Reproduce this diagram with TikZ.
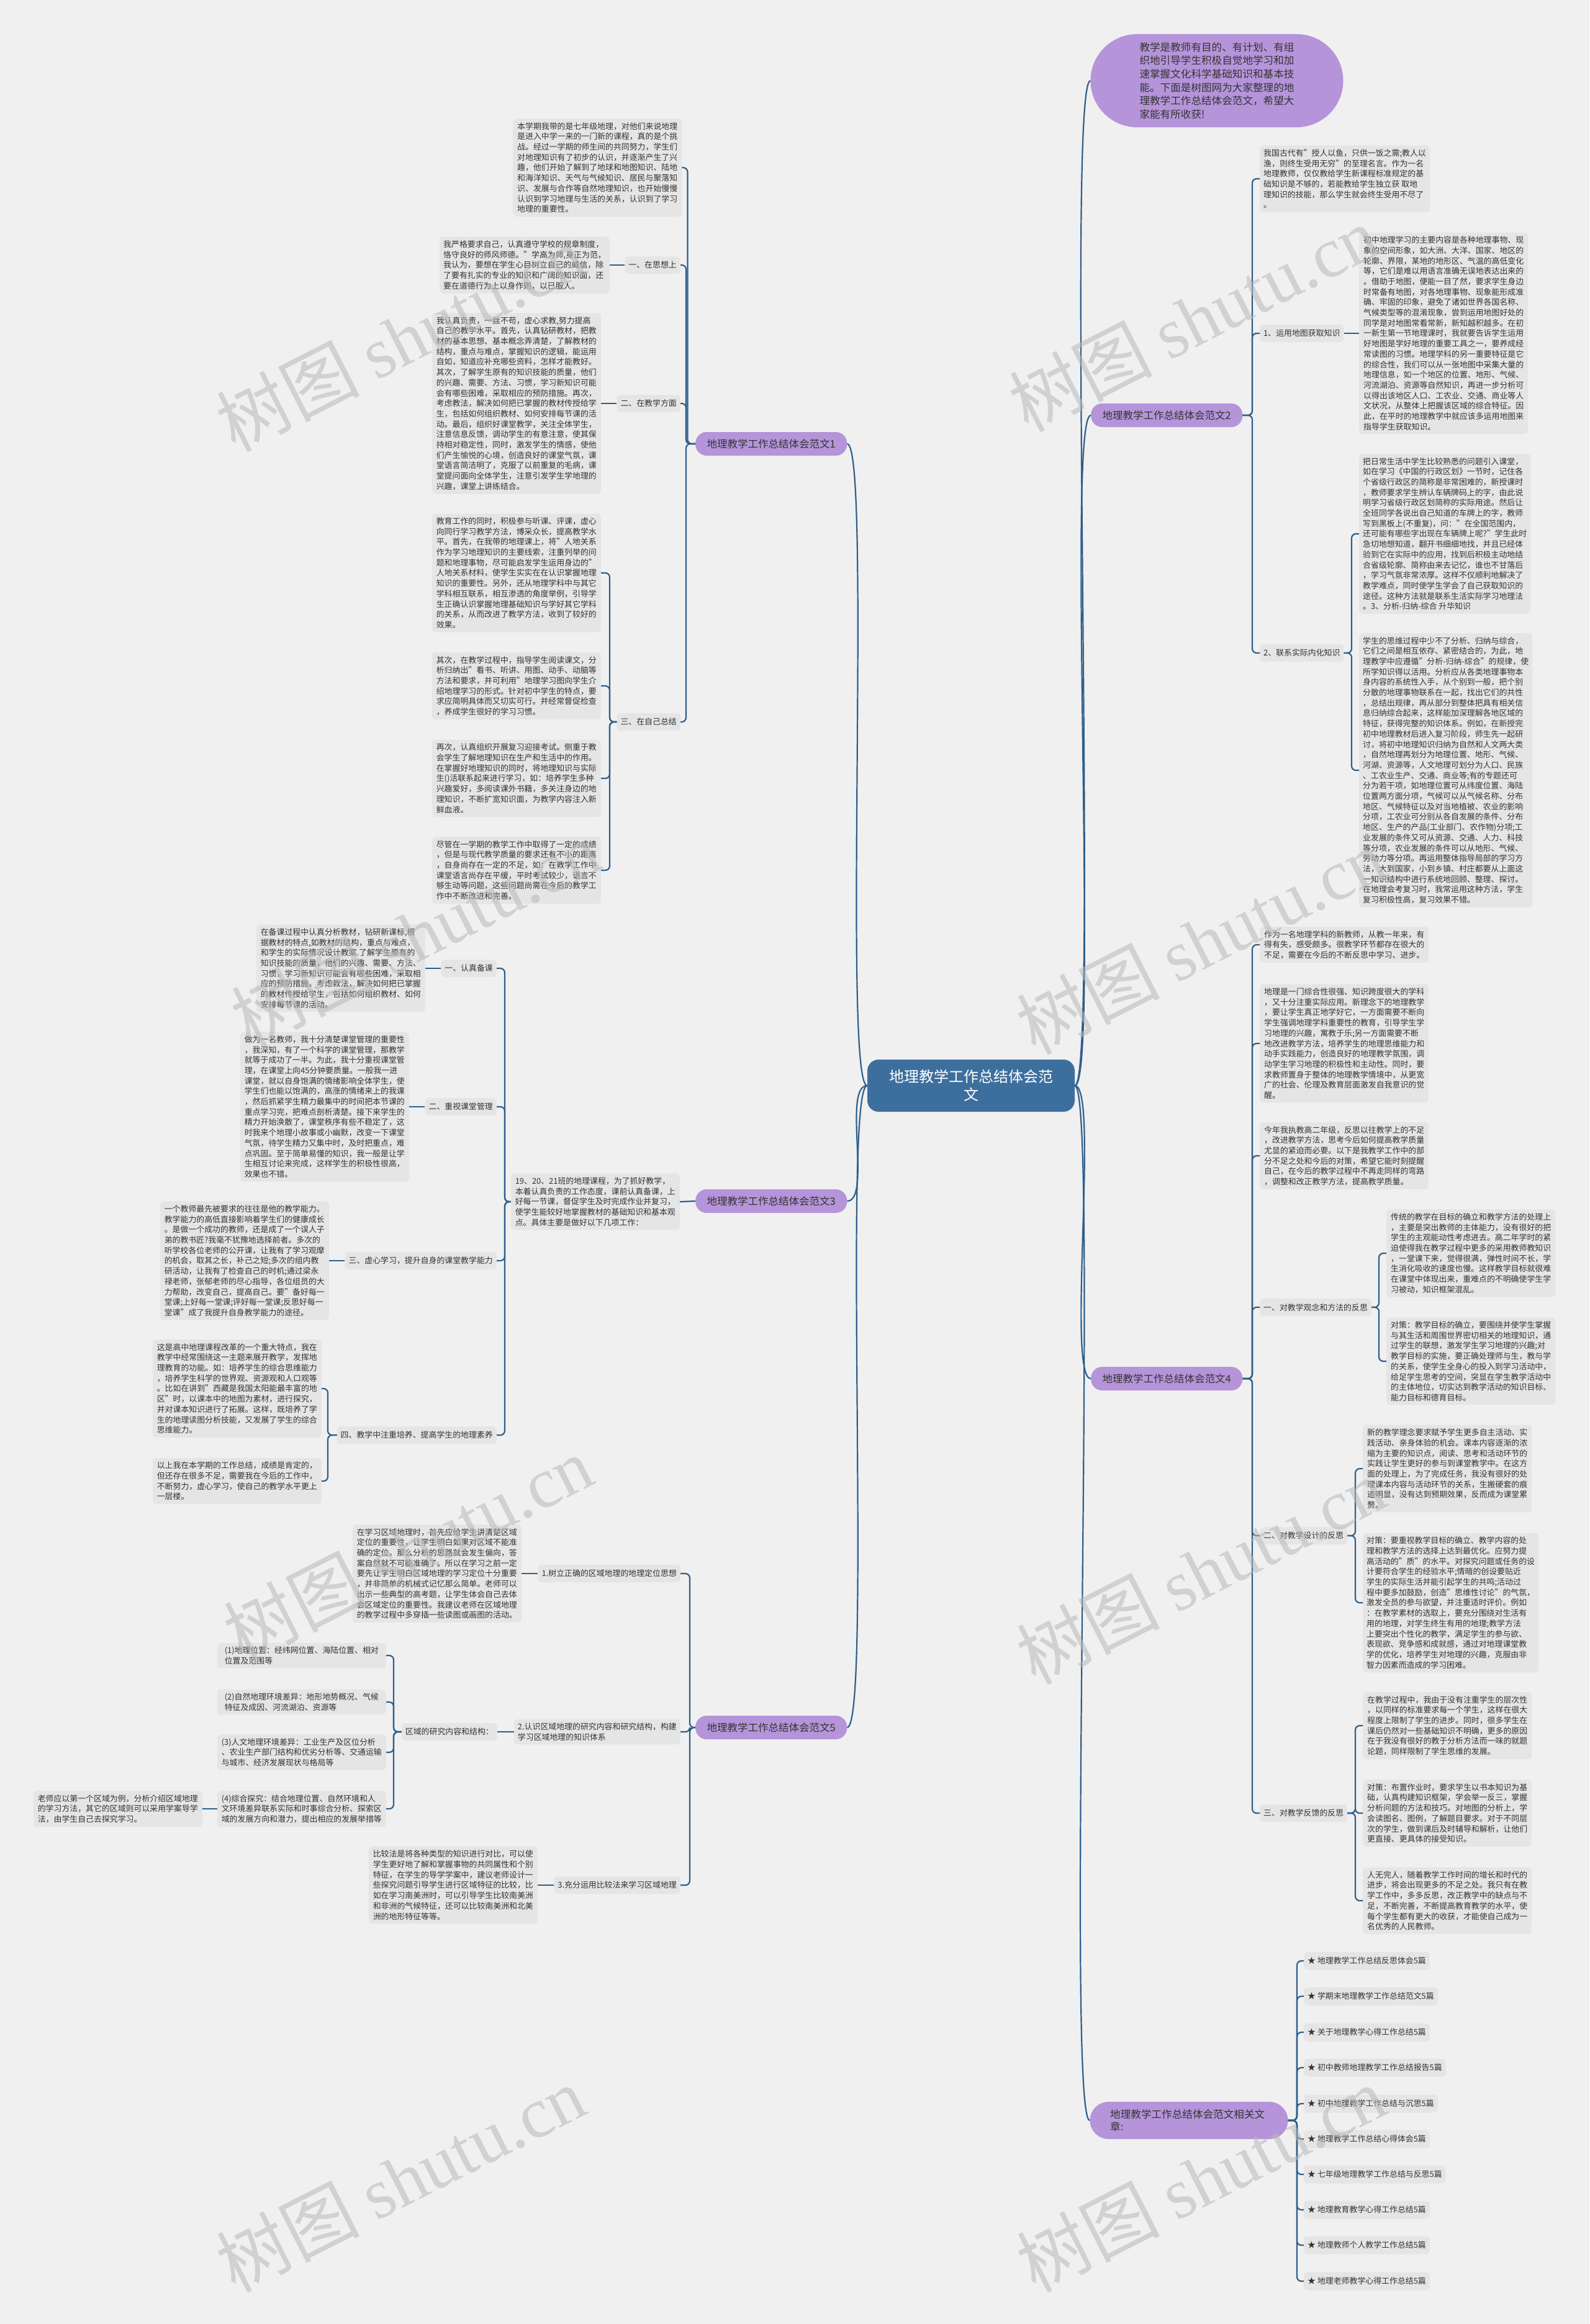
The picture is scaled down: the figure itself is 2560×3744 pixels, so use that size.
\documentclass[tikz,border=0pt]{standalone}
\usepackage{fontspec}
\setmainfont{Noto Sans CJK SC}
\newfontfamily\wmserif{Liberation Serif}
\usetikzlibrary{calc}
\definecolor{bgc}{HTML}{F0F0F0}
\definecolor{boxc}{HTML}{E5E5E5}
\definecolor{linec}{HTML}{2F5F8A}
\definecolor{txtc}{HTML}{333333}
\definecolor{ctrc}{HTML}{3D6F9E}
\definecolor{purp}{HTML}{B594DA}
\definecolor{wmc}{HTML}{B8B8B8}
\tikzset{
 tb/.style={fill=boxc, rounded corners=6pt, inner xsep=6pt, inner ysep=6pt, text=txtc, font=\fontsize{12.9}{16.7}\selectfont, align=left, minimum width=272pt},
 lb/.style={fill=boxc, rounded corners=6pt, inner xsep=6pt, inner ysep=3pt, minimum height=28pt, text=txtc, font=\fontsize{12.9}{16.7}\selectfont, align=left},
 lone/.style={fill=purp, rounded corners=18pt, inner xsep=14pt, minimum height=38pt, minimum width=244pt, text=txtc, font=\fontsize{16.5}{20}\selectfont},
 ctr/.style={fill=ctrc, rounded corners=18pt, minimum width=334pt, minimum height=84pt, text=white, align=center, font=\fontsize{24}{29}\selectfont},
 bub/.style={fill=purp, text=txtc, align=left, font=\fontsize{16.6}{21.7}\selectfont},
 it/.style={fill=boxc, rounded corners=6pt, inner xsep=6pt, minimum height=29pt, text=txtc, font=\fontsize{12.9}{16}\selectfont},
 conn/.style={draw=linec, line width=2.2pt, rounded corners=7pt},
 wm/.style={text=wmc, opacity=0.55, font=\fontsize{115}{115}\selectfont, rotate=27}
}
\begin{document}
\begin{tikzpicture}[x=1pt,y=-1pt]
\fill[bgc] (0,0) rectangle (2560,3744);
\useasboundingbox (0,0) rectangle (2560,3744);

% ---------- center and level 1 ----------
\node[ctr] (C) at (1564,1749) {地理教学工作总结体会范\\文};
\node[bub, rounded corners=75pt, minimum width=407pt, minimum height=150pt] (I) at (1960,130) {教学是教师有目的、有计划、有组\\织地引导学生积极自觉地学习和加\\速掌握文化科学基础知识和基本技\\能。下面是树图网为大家整理的地\\理教学工作总结体会范文，希望大\\家能有所收获!};
\node[lone, anchor=west] (B1) at (1120,715) {地理教学工作总结体会范文1};
\node[lone, anchor=west] (B2) at (1757,669) {地理教学工作总结体会范文2};
\node[lone, anchor=west] (B3) at (1120,1935) {地理教学工作总结体会范文3};
\node[lone, anchor=west] (B4) at (1757,2221) {地理教学工作总结体会范文4};
\node[lone, anchor=west] (B5) at (1120,2783) {地理教学工作总结体会范文5};
\node[bub, rounded corners=30pt, minimum width=319pt, minimum height=60pt, font=\fontsize{16.6}{20}\selectfont] (B6) at (1915,3416) {地理教学工作总结体会范文相关文\\章:\hphantom{理教学工作总结体会范文相关文}};

\draw[conn] (C.west) .. controls +(-40,0) and +(40,0) .. (B1.east);
\draw[conn] (C.west) .. controls +(-40,0) and +(40,0) .. (B3.east);
\draw[conn] (C.west) .. controls +(-40,0) and +(40,0) .. (B5.east);
\draw[conn] (C.east) .. controls +(40,0) and +(-40,0) .. (I.west);
\draw[conn] (C.east) .. controls +(40,0) and +(-40,0) .. (B2.west);
\draw[conn] (C.east) .. controls +(40,0) and +(-40,0) .. (B4.west);
\draw[conn] (C.east) .. controls +(40,0) and +(-40,0) .. (B6.west);

% ---------- branch 1 ----------
\node[tb, anchor=west] (t1a) at (826,270) {本学期我带的是七年级地理，对他们来说地理\\是进入中学一来的一门新的课程，真的是个挑\\战。经过一学期的师生间的共同努力，学生们\\对地理知识有了初步的认识，并逐渐产生了兴\\趣，他们开始了解到了地球和地图知识、陆地\\和海洋知识、天气与气候知识、居民与聚落知\\识、发展与合作等自然地理知识，也开始慢慢\\认识到学习地理与生活的关系，认识到了学习\\地理的重要性。};
\node[lb, anchor=east] (l1a) at (1096,427) {一、在思想上};
\node[tb, anchor=east] (t1a1) at (982,427) {我严格要求自己，认真遵守学校的规章制度，\\恪守良好的师风师德。"学高为师,身正为范，\\我认为，要想在学生心目树立自己的威信，除\\了要有扎实的专业的知识和广阔的知识面，还\\要在道德行为上以身作则，以已服人。};
\node[lb, anchor=east] (l1b) at (1096,650) {二、在教学方面};
\node[tb, anchor=east] (t1b1) at (968,650) {我认真负责，一丝不苟，虚心求教,努力提高\\自己的教学水平。首先，认真钻研教材，把教\\材的基本思想、基本概念弄清楚，了解教材的\\结构，重点与难点，掌握知识的逻辑，能运用\\自如，知道应补充哪些资料，怎样才能教好。\\其次，了解学生原有的知识技能的质量，他们\\的兴趣、需要、方法、习惯，学习新知识可能\\会有哪些困难，采取相应的预防措施。再次，\\考虑教法，解决如何把已掌握的教材传授给学\\生，包括如何组织教材、如何安排每节课的活\\动。最后，组织好课堂教学，关注全体学生，\\注意信息反馈，调动学生的有意注意，使其保\\持相对稳定性，同时，激发学生的情感，使他\\们产生愉悦的心境，创造良好的课堂气氛，课\\堂语言简洁明了，克服了以前重复的毛病，课\\堂提问面向全体学生，注意引发学生学地理的\\兴趣，课堂上讲练结合。};
\node[lb, anchor=east] (l1c) at (1096,1163) {三、在自己总结};
\node[tb, anchor=east] (t1cA) at (968,923) {教育工作的同时，积极参与听课、评课，虚心\\向同行学习教学方法，博采众长，提高教学水\\平。首先，在我带的地理课上，将"人地关系\\作为学习地理知识的主要线索，注重列举的问\\题和地理事物，尽可能启发学生运用身边的"\\人地关系材料，使学生实实在在认识掌握地理\\知识的重要性。另外，还从地理学科中与其它\\学科相互联系，相互渗透的角度举例，引导学\\生正确认识掌握地理基础知识与学好其它学科\\的关系，从而改进了教学方法，收到了较好的\\效果。};
\node[tb, anchor=east] (t1cB) at (968,1105) {其次，在教学过程中，指导学生阅读课文，分\\析归纳出"看书、听讲、用图、动手、动脑等\\方法和要求，并可利用"地理学习图向学生介\\绍地理学习的形式。针对初中学生的特点，要\\求应简明具体而又切实可行。并经常督促检查\\，养成学生很好的学习习惯。};
\node[tb, anchor=east] (t1cC) at (968,1254) {再次，认真组织开展复习迎接考试。侧重于教\\会学生了解地理知识在生产和生活中的作用。\\在掌握好地理知识的同时，将地理知识与实际\\生()活联系起来进行学习，如：培养学生多种\\兴趣爱好，多阅读课外书籍，多关注身边的地\\理知识，不断扩宽知识面，为教学内容注入新\\鲜血液。};
\node[tb, anchor=east] (t1cD) at (968,1402) {尽管在一学期的教学工作中取得了一定的成绩\\，但是与现代教学质量的要求还有不小的距离\\，自身尚存在一定的不足，如：在教学工作中\\课堂语言尚存在平缓，平时考试较少，语言不\\够生动等问题，这些问题尚需在今后的教学工\\作中不断改进和完善。};

\foreach \n in {t1a,l1a,l1b,l1c} \draw[conn] (B1.west) -| ([xshift=9pt]\n.east) -- (\n.east);
\draw[conn] (l1a.west) -- (t1a1.east);
\draw[conn] (l1b.west) -- (t1b1.east);
\foreach \n in {t1cA,t1cB,t1cC,t1cD} \draw[conn] (l1c.west) -| ([xshift=14pt]\n.east) -- (\n.east);

% ---------- branch 2 ----------
\node[tb, anchor=west] (t2a) at (2029,288) {我国古代有"授人以鱼，只供一饭之需;教人以\\渔，则终生受用无穷"的至理名言。作为一名\\地理教师，仅仅教给学生新课程标准规定的基\\础知识是不够的，若能教给学生独立获 取地\\理知识的技能，那么学生就会终生受用不尽了\\。};
\node[lb, anchor=west] (l2a) at (2029,537) {1、运用地图获取知识};
\node[tb, anchor=west] (t2a1) at (2189,537) {初中地理学习的主要内容是各种地理事物、现\\象的空间形象，如大洲、大洋、国家、地区的\\轮廓、界限，某地的地形区、气温的高低变化\\等，它们是难以用语言准确无误地表达出来的\\。借助于地图，便能一目了然，要求学生身边\\时常备有地图，对各地理事物、现象能形成准\\确、牢固的印象，避免了诸如世界各国名称、\\气候类型等的混淆现象，尝到运用地图好处的\\同学是对地图常看常新，新知越积越多。在初\\一新生第一节地理课时，我就要告诉学生运用\\好地图是学好地理的重要工具之一，要养成经\\常读图的习惯。地理学科的另一重要特征是它\\的综合性，我们可以从一张地图中采集大量的\\地理信息，如一个地区的位置、地形、气候、\\河流湖泊、资源等自然知识，再进一步分析可\\以得出该地区人口、工农业、交通、商业等人\\文状况，从整体上把握该区域的综合特征。因\\此，在平时的地理教学中就应该多运用地图来\\指导学生获取知识。};
\node[lb, anchor=west] (l2b) at (2029,1052) {2、联系实际内化知识};
\node[tb, anchor=west] (t2bX) at (2189,860) {把日常生活中学生比较熟悉的问题引入课堂，\\如在学习《中国的行政区划》一节时，记住各\\个省级行政区的简称是非常困难的，新授课时\\，教师要求学生辨认车辆牌码上的字，由此说\\明学习省级行政区划简称的实际用途。然后让\\全班同学各说出自己知道的车牌上的字，教师\\写到黑板上(不重复)，问："在全国范围内，\\还可能有哪些字出现在车辆牌上呢?"学生此时\\急切地想知道，翻开书细细地找，并且已经体\\验到它在实际中的应用，找到后积极主动地结\\合省级轮廓、简称由来去记忆，谁也不甘落后\\，学习气氛非常浓厚。这样不仅顺利地解决了\\教学难点，同时使学生学会了自己获取知识的\\途径。这种方法就是联系生活实际学习地理法\\。3、分析-归纳-综合 升华知识};
\node[tb, anchor=west] (t2bY) at (2189,1241) {学生的思维过程中少不了分析、归纳与综合，\\它们之间是相互依存、紧密结合的，为此，地\\理教学中应遵循"分析-归纳-综合"的规律，使\\所学知识得以活用。分析应从各类地理事物本\\身内容的系统性入手，从个别到一般，把个别\\分散的地理事物联系在一起，找出它们的共性\\，总结出规律，再从部分到整体把具有相关信\\息归纳综合起来，这样能加深理解各地区域的\\特征，获得完整的知识体系。例如，在新授完\\初中地理教材后进入复习阶段，师生先一起研\\讨，将初中地理知识归纳为自然和人文两大类\\，自然地理再划分为地理位置、地形、气候、\\河湖、资源等，人文地理可划分为人口、民族\\、工农业生产、交通、商业等;有的专题还可\\分为若干项，如地理位置可从纬度位置、海陆\\位置两方面分项，气候可以从气候名称、分布\\地区、气候特征以及对当地植被、农业的影响\\分项，工农业可分别从各自发展的条件、分布\\地区、生产的产品(工业部门、农作物)分项;工\\业发展的条件又可从资源、交通、人力、科技\\等分项，农业发展的条件可以从地形、气候、\\劳动力等分项。再运用整体指导局部的学习方\\法，大到国家，小到乡镇、村庄都要从上面这\\一知识结构中进行系统地回顾、整理、探讨。\\在地理会考复习时，我常运用这种方法，学生\\复习积极性高，复习效果不错。};

\foreach \n in {t2a,l2a,l2b} \draw[conn] (B2.east) -| ([xshift=-12pt]\n.west) -- (\n.west);
\draw[conn] (l2a.east) -- (t2a1.west);
\foreach \n in {t2bX,t2bY} \draw[conn] (l2b.east) -| ([xshift=-12pt]\n.west) -- (\n.west);

% ---------- branch 3 ----------
\node[tb, anchor=east] (t3) at (1095,1936) {19、20、21班的地理课程，为了抓好教学，\\本着认真负责的工作态度，课前认真备课，上\\好每一节课，督促学生及时完成作业并复习，\\使学生能较好地掌握教材的基础知识和基本观\\点。具体主要是做好以下几项工作：};
\node[lb, anchor=east] (l3a) at (800,1560) {一、认真备课};
\node[tb, anchor=east] (t3a) at (685,1560) {在备课过程中认真分析教材，钻研新课标,根\\据教材的特点,如教材的结构，重点与难点，\\和学生的实际情况设计教案.了解学生原有的\\知识技能的质量，他们的兴趣、需要、方法、\\习惯，学习新知识可能会有哪些困难，采取相\\应的预防措施。考虑教法，解决如何把已掌握\\的教材传授给学生，包括如何组织教材、如何\\安排每节课的活动。};
\node[lb, anchor=east] (l3b) at (800,1783) {二、重视课堂管理};
\node[tb, anchor=east] (t3b) at (659,1783) {做为一名教师，我十分清楚课堂管理的重要性\\，我深知，有了一个科学的课堂管理，那教学\\就等于成功了一半。为此，我十分重视课堂管\\理，在课堂上向45分钟要质量。一般我一进\\课堂，就以自身饱满的情绪影响全体学生，使\\学生们也能以饱满的，高涨的情绪来上的我课\\，然后抓紧学生精力最集中的时间把本节课的\\重点学习完，把难点剖析清楚。接下来学生的\\精力开始涣散了，课堂秩序有些不稳定了，这\\时我来个地理小故事或小幽默，改变一下课堂\\气氛，待学生精力又集中时，及时把重点，难\\点巩固。至于简单易懂的知识，我一般是让学\\生相互讨论来完成，这样学生的积极性很高，\\效果也不错。};
\node[lb, anchor=east] (l3c) at (800,2031) {三、虚心学习，提升自身的课堂教学能力};
\node[tb, anchor=east] (t3c) at (530,2031) {一个教师最先被要求的往往是他的教学能力。\\教学能力的高低直接影响着学生们的健康成长\\。是做一个成功的教师，还是成了一个误人子\\弟的教书匠?我毫不犹豫地选择前者。多次的\\听学校各位老师的公开课，让我有了学习观摩\\的机会，取其之长，补己之短;多次的组内教\\研活动，让我有了检查自己的时机;通过梁永\\禄老师，张郁老师的尽心指导，各位组员的大\\力帮助，改变自己，提高自己。要"备好每一\\堂课;上好每一堂课;评好每一堂课;反思好每一\\堂课"成了我提升自身教学能力的途径。};
\node[lb, anchor=east] (l3d) at (800,2312) {四、教学中注重培养、提高学生的地理素养};
\node[tb, anchor=east] (t3dA) at (518,2237) {这是高中地理课程改革的一个重大特点，我在\\教学中经常围绕这一主题来展开教学，发挥地\\理教育的功能。如：培养学生的综合思维能力\\，培养学生科学的世界观、资源观和人口观等\\。比如在讲到"西藏是我国太阳能最丰富的地\\区"时，以课本中的地图为素材，进行探究，\\并对课本知识进行了拓展。这样，既培养了学\\生的地理读图分析技能，又发展了学生的综合\\思维能力。};
\node[tb, anchor=east] (t3dB) at (518,2386) {以上我在本学期的工作总结，成绩是肯定的，\\但还存在很多不足，需要我在今后的工作中，\\不断努力，虚心学习，使自己的教学水平更上\\一层楼。};

\draw[conn] (B3.west) -- (t3.east);
\foreach \n in {l3a,l3b,l3c,l3d} \draw[conn] (t3.west) -| ([xshift=13pt]\n.east) -- (\n.east);
\draw[conn] (l3a.west) -- (t3a.east);
\draw[conn] (l3b.west) -- (t3b.east);
\draw[conn] (l3c.west) -- (t3c.east);
\foreach \n in {t3dA,t3dB} \draw[conn] (l3d.west) -| ([xshift=10pt]\n.east) -- (\n.east);

% ---------- branch 4 ----------
\node[tb, anchor=west] (t4a) at (2029,1522) {作为一名地理学科的新教师，从教一年来，有\\得有失，感受颇多。很教学环节都存在很大的\\不足，需要在今后的不断反思中学习、进步。};
\node[tb, anchor=west] (t4b) at (2029,1681) {地理是一门综合性很强、知识跨度很大的学科\\，又十分注重实际应用。新理念下的地理教学\\，要让学生真正地学好它，一方面需要不断向\\学生强调地理学科重要性的教育，引导学生学\\习地理的兴趣，寓教于乐;另一方面需要不断\\地改进教学方法，培养学生的地理思维能力和\\动手实践能力，创造良好的地理教学氛围，调\\动学生学习地理的积极性和主动性。同时，要\\求教师置身于整体的地理教学情境中，从更宽\\广的社会、伦理及教育层面激发自我意识的觉\\醒。};
\node[tb, anchor=west] (t4c) at (2029,1862) {今年我执教高二年级，反思以往教学上的不足\\，改进教学方法，思考今后如何提高教学质量\\尤显的紧迫而必要。以下是我教学工作中的部\\分不足之处和今后的对策，希望它能时刻提醒\\自己，在今后的教学过程中不再走同样的弯路\\，调整和改正教学方法，提高教学质量。};
\node[lb, anchor=west] (l4a) at (2029,2106) {一、对教学观念和方法的反思};
\node[tb, anchor=west] (t4a1) at (2233,2019) {传统的教学在目标的确立和教学方法的处理上\\，主要是突出教师的主体能力，没有很好的把\\学生的主观能动性考虑进去。高二年学时的紧\\迫使得我在教学过程中更多的采用教师教知识\\，一堂课下来，觉得很满，弹性时间不长，学\\生消化吸收的速度也慢。这样教学目标就很难\\在课堂中体现出来，重难点的不明确使学生学\\习被动，知识框架混乱。};
\node[tb, anchor=west] (t4a2) at (2233,2193) {对策：教学目标的确立，要围绕并使学生掌握\\与其生活和周围世界密切相关的地理知识，通\\过学生的联想，激发学生学习地理的兴趣;对\\教学目标的实施，要正确处理师与生，教与学\\的关系，使学生全身心的投入到学习活动中，\\给足学生思考的空间，突显在学生教学活动中\\的主体地位，切实达到教学活动的知识目标、\\能力目标和德育目标。};
\node[lb, anchor=west] (l4b) at (2029,2474) {二、对教学设计的反思};
\node[tb, anchor=west] (t4b1) at (2195,2366) {新的教学理念要求赋予学生更多自主活动、实\\践活动、亲身体验的机会。课本内容逐渐的浓\\缩为主要的知识点，阅读、思考和活动环节的\\实践让学生更好的参与到课堂教学中。在这方\\面的处理上，为了完成任务，我没有很好的处\\理课本内容与活动环节的关系，生搬硬套的痕\\迹明显，没有达到预期效果，反而成为课堂累\\赘。};
\node[tb, anchor=west] (t4b2) at (2195,2582) {对策：要重视教学目标的确立、教学内容的处\\理和教学方法的选择上达到最优化。应努力提\\高活动的"质"的水平。对探究问题或任务的设\\计要符合学生的经验水平;情暗的创设要贴近\\学生的实际生活并能引起学生的共鸣;活动过\\程中要多加鼓励，创造"思维性讨论"的气氛，\\激发全员的参与欲望，并注重适时评价。例如\\：在教学素材的选取上，要充分围绕对生活有\\用的地理，对学生终生有用的地理;教学方法\\上要突出个性化的教学，满足学生的参与欲、\\表现欲、竞争感和成就感，通过对地理课堂教\\学的优化，培养学生对地理的兴趣，克服由非\\智力因素而造成的学习困难。};
\node[lb, anchor=west] (l4c) at (2029,2921) {三、对教学反馈的反思};
\node[tb, anchor=west] (t4c1) at (2195,2780) {在教学过程中，我由于没有注重学生的层次性\\，以同样的标准要求每一个学生，这样在很大\\程度上限制了学生的进步。同时，很多学生在\\课后仍然对一些基础知识不明确，更多的原因\\在于我没有很好的教于分析方法而一味的就题\\论题，同样限制了学生思维的发展。};
\node[tb, anchor=west] (t4c2) at (2195,2921) {对策：布置作业时，要求学生以书本知识为基\\础，认真构建知识框架，学会举一反三，掌握\\分析问题的方法和技巧。对地图的分析上，学\\会读图名、图例，了解题目要求。对于不同层\\次的学生，做到课后及时辅导和解析，让他们\\更直接、更具体的接受知识。};
\node[tb, anchor=west] (t4c3) at (2195,3062) {人无完人，随着教学工作时间的增长和时代的\\进步，将会出现更多的不足之处。我只有在教\\学工作中，多多反思，改正教学中的缺点与不\\足，不断完善，不断提高教育教学的水平，使\\每个学生都有更大的收获，才能使自己成为一\\名优秀的人民教师。};

\foreach \n in {t4a,t4b,t4c,l4a,l4b,l4c} \draw[conn] (B4.east) -| ([xshift=-12pt]\n.west) -- (\n.west);
\foreach \n in {t4a1,t4a2} \draw[conn] (l4a.east) -| ([xshift=-12pt]\n.west) -- (\n.west);
\foreach \n in {t4b1,t4b2} \draw[conn] (l4b.east) -| ([xshift=-12pt]\n.west) -- (\n.west);
\foreach \n in {t4c1,t4c2,t4c3} \draw[conn] (l4c.east) -| ([xshift=-12pt]\n.west) -- (\n.west);

% ---------- branch 5 ----------
\node[lb, anchor=east] (l5a) at (1096,2535) {1.树立正确的区域地理的地理定位思想};
\node[tb, anchor=east] (t5a) at (840,2535) {在学习区域地理时，首先应给学生讲清楚区域\\定位的重要性，让学生明白如果对区域不能准\\确的定位，那么分析的思路就会发生偏向，答\\案自然就不可能准确了。所以在学习之前一定\\要先让学生明白区域地理的学习定位十分重要\\，并非简单的机械式记忆那么简单。老师可以\\出示一些典型的高考题，让学生体会自己去体\\会区域定位的重要性。我建议老师在区域地理\\的教学过程中多穿插一些读图或画图的活动。};
\node[lb, anchor=east, inner ysep=6pt] (l5b) at (1096,2790) {2.认识区域地理的研究内容和研究结构，构建\\学习区域地理的知识体系};
\node[lb, anchor=east] (l5b1) at (801,2790) {区域的研究内容和结构：};
\node[tb, anchor=east] (t5b1) at (622,2667) {(1)地理位置：经纬网位置、海陆位置、相对\\位置及范围等};
\node[tb, anchor=east] (t5b2) at (622,2742) {(2)自然地理环境差异：地形地势概况、气候\\特征及成因、河流湖泊、资源等};
\node[tb, anchor=east] (t5b3) at (622,2823) {(3)人文地理环境差异：工业生产及区位分析\\、农业生产部门结构和优劣分析等、交通运输\\与城市、经济发展现状与格局等};
\node[tb, anchor=east] (t5b4) at (622,2914) {(4)综合探究：结合地理位置、自然环境和人\\文环境差异联系实际和时事综合分析、探索区\\域的发展方向和潜力，提出相应的发展举措等};
\node[tb, anchor=east] (t5b4c) at (326,2914) {老师应以第一个区域为例，分析介绍区域地理\\的学习方法，其它的区域则可以采用学案导学\\法，由学生自己去探究学习。};
\node[lb, anchor=east] (l5c) at (1096,3037) {3.充分运用比较法来学习区域地理};
\node[tb, anchor=east] (t5c) at (866,3037) {比较法是将各种类型的知识进行对比，可以使\\学生更好地了解和掌握事物的共同属性和个别\\特征，在学生的导学学案中，建议老师设计一\\些探究问题引导学生进行区域特征的比较，比\\如在学习南美洲时，可以引导学生比较南美洲\\和非洲的气候特征，还可以比较南美洲和北美\\洲的地形特征等等。};

\foreach \n in {l5a,l5b,l5c} \draw[conn] (B5.west) -| ([xshift=15pt]\n.east) -- (\n.east);
\draw[conn] (l5a.west) -- (t5a.east);
\draw[conn] (l5b.west) -- (l5b1.east);
\draw[conn] (l5c.west) -- (t5c.east);
\foreach \n in {t5b1,t5b2,t5b3,t5b4} \draw[conn] (l5b1.west) -| ([xshift=12pt]\n.east) -- (\n.east);
\draw[conn] (t5b4.west) -- (t5b4c.east);

% ---------- branch 6 ----------
\node[it, anchor=west] (r1) at (2100,3159) {★ 地理教学工作总结反思体会5篇};
\node[it, anchor=west] (r2) at (2100,3216) {★ 学期末地理教学工作总结范文5篇};
\node[it, anchor=west] (r3) at (2100,3274) {★ 关于地理教学心得工作总结5篇};
\node[it, anchor=west] (r4) at (2100,3331) {★ 初中教师地理教学工作总结报告5篇};
\node[it, anchor=west] (r5) at (2100,3389) {★ 初中地理教学工作总结与沉思5篇};
\node[it, anchor=west] (r6) at (2100,3446) {★ 地理教学工作总结心得体会5篇};
\node[it, anchor=west] (r7) at (2100,3503) {★ 七年级地理教学工作总结与反思5篇};
\node[it, anchor=west] (r8) at (2100,3560) {★ 地理教育教学心得工作总结5篇};
\node[it, anchor=west] (r9) at (2100,3617) {★ 地理教师个人教学工作总结5篇};
\node[it, anchor=west] (r10) at (2100,3675) {★ 地理老师教学心得工作总结5篇};
\foreach \n in {r1,r2,r3,r4,r5,r6,r7,r8,r9,r10} \draw[conn] (B6.east) -| ([xshift=-11pt]\n.west) -- (\n.west);

% ---------- watermarks ----------
\foreach \p/\q in {645/545, 1922/513, 669/1504, 1934/1516, 657/2495, 1934/2531, 645/3510, 1934/3510}
  \node[wm] at (\p,\q) {树图 {\wmserif shutu.cn}};
\end{tikzpicture}
\end{document}
